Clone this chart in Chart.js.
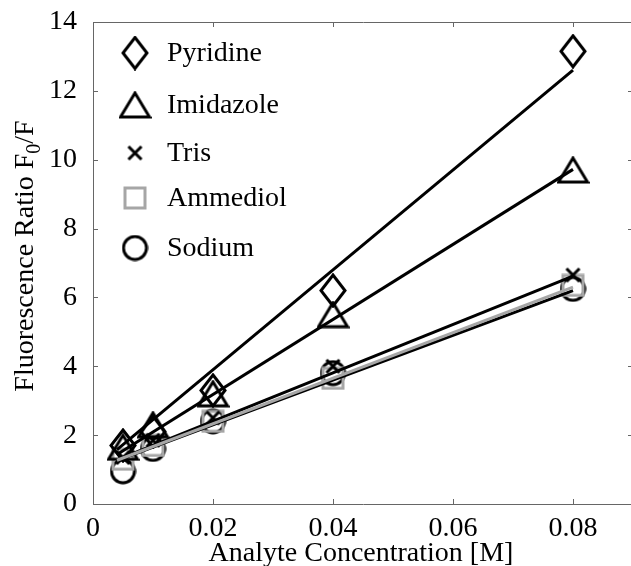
<!DOCTYPE html>
<html>
<head>
<meta charset="utf-8">
<script src="https://cdn.jsdelivr.net/npm/chart.js@4.4.0/dist/chart.umd.min.js"></script>
<style>
  html, body { margin: 0; padding: 0; background: #fff; overflow: hidden; }
  #wrap { width: 633px; height: 566px; }
</style>
</head>
<body>
<div id="wrap"><canvas id="chart" width="633" height="566"></canvas></div>
<script>
// Data
const concentrations = [0.005, 0.01, 0.02, 0.04, 0.08];
const pyridine = [1.7, 2.1, 3.3, 6.2, 13.15];
const imidazole = [1.65, 2.3, 3.2, 5.5, 9.7];
const tris = [1.35, 1.85, 2.5, 4.0, 6.65];
const ammediol = [1.3, 1.7, 2.4, 3.65, 6.35];
const sodium = [0.95, 1.6, 2.4, 3.8, 6.25];

// Fitted lines: start and end concentration, value at each end
const fitX = [0.004, 0.08];
const pyridineFit = [1.58, 12.6];
const imidazoleFit = [1.44, 9.72];
const trisFit = [1.28, 6.62];
const ammediolFit = [1.27, 6.3];
const sodiumFit = [1.26, 6.2];

const seriesNames = ['Pyridine', 'Imidazole', 'Tris', 'Ammediol', 'Sodium'];
const xTicks = [0, 0.02, 0.04, 0.06, 0.08];
const yTicks = [0, 2, 4, 6, 8, 10, 12, 14];

const FONT = '"Liberation Serif", serif';
const GRAY = '#a6a6a6';
const AXIS = '#666666';

/** Builds a small canvas holding one marker glyph */
function makeMarker(kind) {
    const c = document.createElement('canvas');
    const sizes = { diamond: [24, 31], triangle: [29, 24], cross: [13, 13], square: [20, 20], circle: [23, 23] };
    const [w, h] = sizes[kind];
    c.width = w + 4;
    c.height = h + 4;
    const g = c.getContext('2d');
    g.lineWidth = 3;
    g.strokeStyle = kind === 'square' ? GRAY : '#000';
    g.lineJoin = 'miter';
    const cx = c.width / 2, cy = c.height / 2;
    g.beginPath();
    if (kind === 'diamond') {
        g.moveTo(cx, 2); g.lineTo(cx + w / 2, cy); g.lineTo(cx, 2 + h); g.lineTo(cx - w / 2, cy); g.closePath();
    } else if (kind === 'triangle') {
        g.moveTo(cx, 2); g.lineTo(cx + w / 2, 2 + h); g.lineTo(cx - w / 2, 2 + h); g.closePath();
    } else if (kind === 'cross') {
        g.moveTo(2, 2); g.lineTo(2 + w, 2 + h); g.moveTo(2 + w, 2); g.lineTo(2, 2 + h);
    } else if (kind === 'square') {
        g.rect(2, 2, w, h);
    } else {
        g.arc(cx, cy, w / 2, 0, Math.PI * 2);
    }
    g.stroke();
    return c;
}

const markers = ['diamond', 'triangle', 'cross', 'square', 'circle'].map(makeMarker);
const pointSeries = [pyridine, imidazole, tris, ammediol, sodium];
const fitSeries = [pyridineFit, imidazoleFit, trisFit, ammediolFit, sodiumFit];

const datasets = [];
fitSeries.forEach((fit, i) => {
    datasets.push({
        label: seriesNames[i] + ' fit',
        data: fitX.map((x, j) => ({ x: x, y: fit[j] })),
        showLine: true,
        borderColor: i === 3 ? GRAY : '#000',
        borderWidth: 3,
        pointRadius: 0,
        order: i === 3 ? 1 : 2
    });
});
pointSeries.forEach((vals, i) => {
    datasets.push({
        label: seriesNames[i],
        data: concentrations.map((x, j) => ({ x: x, y: vals[j] })),
        showLine: false,
        pointStyle: markers[i],
        pointRadius: 12,
        order: 3
    });
});

// Drop the automatic label padding so the plot box lands where the reference has it
function noPad(s) {
    s.paddingLeft = 0;
    s.paddingRight = 0;
    s.paddingTop = 0;
    s.paddingBottom = 0;
}

// Box, inward ticks, legend and axis titles
const decorPlugin = {
    id: 'decor',
    afterDatasetsDraw(chart) {
        const ctx = chart.ctx;
        const a = chart.chartArea;
        const sx = chart.scales.x, sy = chart.scales.y;
        ctx.save();
        ctx.strokeStyle = AXIS;
        ctx.lineWidth = 1;
        ctx.beginPath();
        ctx.rect(Math.round(a.left) + 0.5, Math.round(a.top) + 0.5, Math.round(a.right - a.left), Math.round(a.bottom - a.top));
        for (const v of xTicks) {
            const px = Math.round(sx.getPixelForValue(v)) + 0.5;
            ctx.moveTo(px, a.bottom); ctx.lineTo(px, a.bottom - 5);
            ctx.moveTo(px, a.top); ctx.lineTo(px, a.top + 5);
        }
        for (const v of yTicks) {
            const py = Math.round(sy.getPixelForValue(v)) + 0.5;
            ctx.moveTo(a.left, py); ctx.lineTo(a.left + 5, py);
            ctx.moveTo(a.right, py); ctx.lineTo(a.right - 5, py);
        }
        ctx.stroke();

        // Legend
        ctx.fillStyle = '#000';
        ctx.font = '28px ' + FONT;
        ctx.textAlign = 'left';
        ctx.textBaseline = 'middle';
        const rows = [53, 105, 153, 198, 248];
        seriesNames.forEach((name, i) => {
            const m = markers[i];
            ctx.drawImage(m, 135 - m.width / 2, rows[i] - m.height / 2);
            ctx.fillText(name, 167, rows[i] + 1);
        });

        // X title
        ctx.textAlign = 'center';
        ctx.textBaseline = 'alphabetic';
        ctx.fillText('Analyte Concentration [M]', 361, 561);

        // Y title with subscript
        ctx.translate(33, 256);
        ctx.rotate(-Math.PI / 2);
        const main = 'Fluorescence Ratio F';
        const tail = '/F';
        ctx.font = '28px ' + FONT;
        const wMain = ctx.measureText(main).width;
        const wTail = ctx.measureText(tail).width;
        ctx.font = '20px ' + FONT;
        const wSub = ctx.measureText('0').width;
        let x0 = -(wMain + wSub + wTail) / 2;
        ctx.textAlign = 'left';
        ctx.font = '28px ' + FONT;
        ctx.fillText(main, x0, 0);
        ctx.font = '20px ' + FONT;
        ctx.fillText('0', x0 + wMain, 7);
        ctx.font = '28px ' + FONT;
        ctx.fillText(tail, x0 + wMain + wSub, 0);
        ctx.restore();
    }
};

new Chart(document.getElementById('chart'), {
    type: 'scatter',
    data: { datasets: datasets },
    plugins: [decorPlugin],
    options: {
        responsive: false,
        animation: false,
        devicePixelRatio: 1,
        layout: { autoPadding: false, padding: { top: 22, right: 0, left: 0, bottom: 0 } },
        plugins: { legend: { display: false }, tooltip: { enabled: false } },
        scales: {
            x: {
                type: 'linear',
                min: 0,
                max: 0.09,
                grid: { display: false },
                border: { display: false },
                afterBuildTicks: s => { s.ticks = xTicks.map(v => ({ value: v })); },
                afterFit: s => { s.height = 62; noPad(s); },
                ticks: {
                    color: '#000',
                    font: { family: FONT, size: 28 },
                    padding: 0,
                    maxRotation: 0,
                    callback: v => String(v)
                }
            },
            y: {
                type: 'linear',
                min: 0,
                max: 14,
                grid: { display: false },
                border: { display: false },
                afterBuildTicks: s => { s.ticks = yTicks.map(v => ({ value: v })); },
                afterFit: s => { s.width = 93; noPad(s); },
                ticks: {
                    color: '#000',
                    font: { family: FONT, size: 28 },
                    padding: 8,
                    callback: v => String(v)
                }
            }
        }
    }
});
</script>
</body>
</html>
